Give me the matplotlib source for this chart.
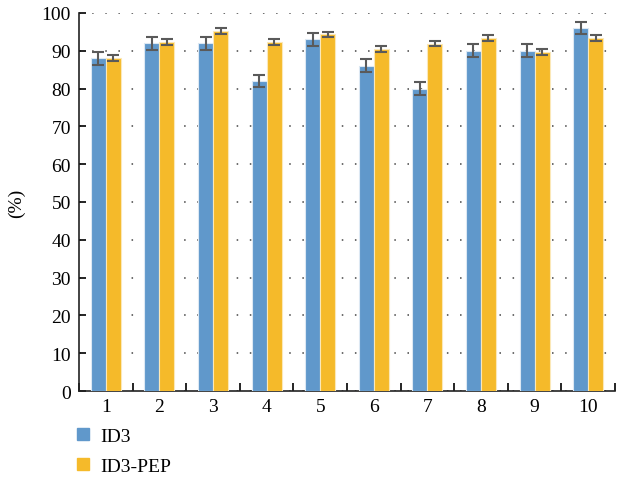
import matplotlib
matplotlib.use("Agg")
import matplotlib.pyplot as plt
import numpy as np
from matplotlib.lines import Line2D

categories = ["1", "2", "3", "4", "5", "6", "7", "8", "9", "10"]
id3 = [88.0, 92.0, 92.0, 82.0, 93.0, 86.0, 80.0, 90.0, 90.0, 96.0]
id3_err = [1.7, 1.7, 1.7, 1.7, 1.7, 1.7, 1.7, 1.7, 1.7, 1.7]
pep = [88.1, 92.4, 95.3, 92.3, 94.3, 90.4, 91.9, 93.4, 89.7, 93.4]
pep_err = [0.75, 0.75, 0.75, 0.75, 0.75, 0.75, 0.75, 0.75, 0.75, 0.75]
yticks = list(range(0, 101, 10))

plt.rcParams['font.family'] = ['Liberation Serif', 'DejaVu Serif']

blue = '#6098CB'
yellow = '#F5BA2A'

fig = plt.figure(figsize=(6.23, 4.81), dpi=100)
ax = fig.add_axes([0.127, 0.185, 0.86, 0.786])

x = np.arange(len(categories))
w = 0.28
ekw = dict(ecolor='#5a5a5a', elinewidth=1.5, capsize=4, capthick=1.5)
ax.bar(x - w/2, id3, w, color=blue, edgecolor='#dce8f3', linewidth=0.8,
       yerr=id3_err, error_kw=ekw, zorder=3)
ax.bar(x + w/2, pep, w, color=yellow, edgecolor='#fbe8b8', linewidth=0.8,
       yerr=pep_err, error_kw=ekw, zorder=3)

ax.set_xlim(-0.5, len(categories) - 0.5)
ax.set_ylim(0, 100)
ax.set_yticks(yticks)
ax.set_xticks(x)
ax.set_xticklabels(categories)
ax.set_xticks(np.arange(-0.5, len(categories)), minor=True)
ax.tick_params(axis='x', which='major', length=0, labelsize=14, pad=5)
ax.tick_params(axis='x', which='minor', direction='in', length=6, width=1.2)
ax.tick_params(axis='y', direction='in', length=5, width=1.2, labelsize=14, pad=6)

for s in ['top', 'right']:
    ax.spines[s].set_visible(False)
for s in ['left', 'bottom']:
    ax.spines[s].set_linewidth(1.2)
    ax.spines[s].set_color('#222222')

ax.yaxis.grid(True, linestyle=(0, (1, 7.6)), color='#444444', linewidth=1.1, zorder=0)
ax.set_axisbelow(True)
ax.set_ylabel('(%)', fontsize=14, labelpad=12)

handles = [Line2D([], [], marker='s', linestyle='none', markersize=8, color=blue),
           Line2D([], [], marker='s', linestyle='none', markersize=8, color=yellow)]
fig.legend(handles, ['ID3', 'ID3-PEP'], loc='upper left', bbox_to_anchor=(0.105, 0.125),
           frameon=False, fontsize=14, handlelength=1.0, handletextpad=0.4,
           labelspacing=0.6, borderaxespad=0)

fig.savefig('out.png', dpi=100)
